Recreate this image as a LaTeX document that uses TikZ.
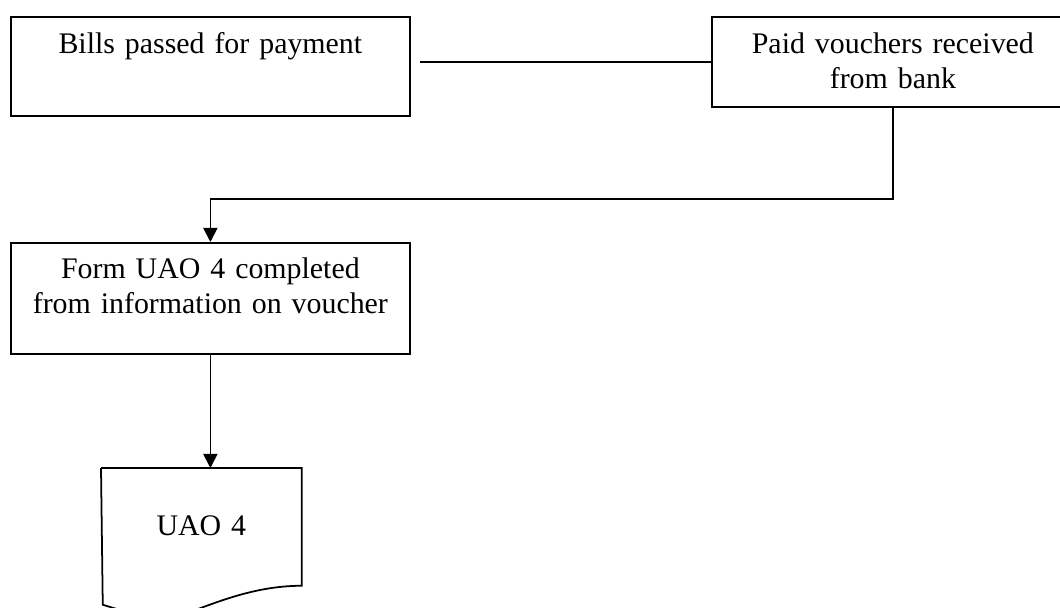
\documentclass[tikz,border=0pt]{standalone}
\usepackage{fontspec}
\setmainfont{Liberation Serif}
\usepackage{tikz}
\usetikzlibrary{arrows.meta, calc, positioning}

\begin{document}
\begin{tikzpicture}[
  stepbox/.style={draw, line width=1pt, inner sep=0pt, align=center,
    font=\fontsize{17}{19.5}\selectfont},
  flow/.style={line width=1pt, -{Triangle[length=0.28cm,width=0.28cm]}}
 ]
 \useasboundingbox (0,0) rectangle (21.2,12.16);
 \clip (0,0) rectangle (21.2,12.16);

 % boxes
 \node[stepbox, anchor=north west, text width=7.98cm, text height=0.74cm, text depth=1.24cm]
   (bills) at (0.2,11.84) {Bills passed for payment};
 \node[stepbox, anchor=north west, text width=7.24cm, text height=0.74cm, text depth=1.06cm]
   (vouch) at (14.22,11.84) {Paid vouchers received\\from bank};
 \node[stepbox, anchor=north west, text width=7.98cm, text height=0.72cm, text depth=1.50cm]
   (form) at (0.2,7.32) {Form UAO 4 completed\\from information on voucher};

 % document
 \node[stepbox, draw=none, anchor=north west, text width=3.98cm, text height=1.34cm, text depth=0.98cm]
   (doc) at (2.02,2.8) {UAO 4};
 \draw[line width=1pt] (doc.north west) -- (doc.north east) -- (doc.south east)
   .. controls +(-1,0) and +(0.6,0.2) .. ++(-2.4,-0.58)
   .. controls +(-0.5,-0.15) and +(0.4,-0.12) .. ++(-1.58,0.2) -- (doc.north west);

 % connectors
 \coordinate (gap) at ([xshift=0.18cm]bills.east);
 \draw[line width=1pt] (gap |- vouch.west) -- (vouch.west);
 \draw[flow] (vouch.south) -- ++(0,-1.82) -| (form.north);
 \draw[flow] (form.south) -- (form.south |- doc.north);
\end{tikzpicture}
\end{document}
